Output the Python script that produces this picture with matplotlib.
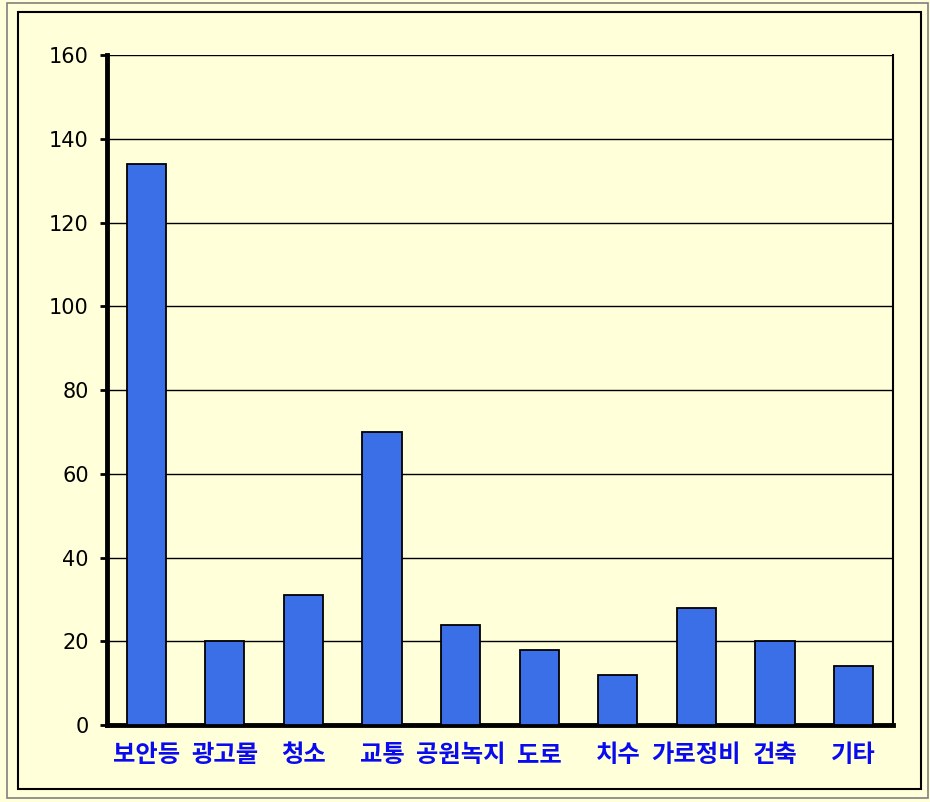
import matplotlib.pyplot as plt
from matplotlib.patches import Rectangle

plt.rcParams['font.family'] = ['Noto Sans CJK KR', 'DejaVu Sans']

# data
categories = ['보안등', '광고물', '청소', '교통', '공원녹지', '도로', '치수', '가로정비', '건축', '기타']
counts = [134, 20, 31, 70, 24, 18, 12, 28, 20, 14]
yticks = [0, 20, 40, 60, 80, 100, 120, 140, 160]

bg = '#FFFFD9'
fig = plt.figure(figsize=(9.3, 8.02), dpi=100, facecolor=bg)
ax = fig.add_axes([0.115, 0.096, 0.845, 0.835])
ax.set_facecolor(bg)

# outer frames
fig.patches.append(Rectangle((7 / 930, 1 - 798 / 802), 921 / 930, 795 / 802,
                             transform=fig.transFigure, fill=False,
                             edgecolor='#808080', linewidth=1.2))
fig.patches.append(Rectangle((18 / 930, 1 - 789 / 802), 903 / 930, 777 / 802,
                             transform=fig.transFigure, fill=False,
                             edgecolor='black', linewidth=1.5))

x = range(len(categories))
ax.bar(x, counts, width=0.5, color='#3A6FE8', edgecolor='black', linewidth=1.3, zorder=3)

ax.set_xlim(-0.5, len(categories) - 0.5)
ax.set_ylim(0, 160)
ax.set_yticks(yticks)
ax.set_yticklabels([str(v) for v in yticks], fontsize=15, family=['DejaVu Sans'])
ax.yaxis.grid(True, color='black', linewidth=1.0, zorder=0)
ax.set_axisbelow(True)

ax.set_xticks(list(x))
ax.set_xticklabels(categories, fontsize=17.5, fontweight='bold', color='#0A0AF0')
ax.tick_params(axis='x', length=0, pad=13)
ax.tick_params(axis='y', length=5, width=2, pad=8, direction='out')

ax.spines['left'].set_linewidth(3.5)
ax.spines['bottom'].set_linewidth(3.5)
ax.spines['right'].set_linewidth(1.5)
ax.spines['top'].set_visible(False)

plt.savefig('out.png', dpi=100, facecolor=bg)
